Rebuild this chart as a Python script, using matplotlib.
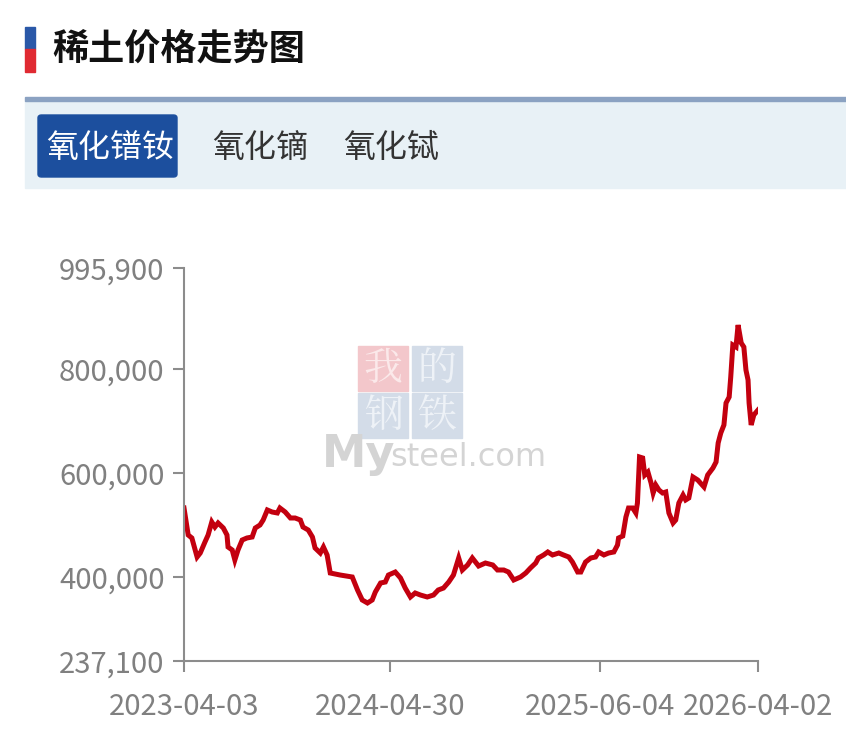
import matplotlib
matplotlib.use('Agg')
import matplotlib.pyplot as plt
import matplotlib.dates as mdates
from matplotlib.patches import Rectangle, FancyBboxPatch
import pandas as pd

plt.rcParams['font.family'] = ['Noto Sans CJK SC', 'DejaVu Sans']

# 氧化镨钕 价格 (元/吨)，从图上读出的近似值
dates = [
    '2023-04-03', '2023-04-11', '2023-04-18', '2023-04-28', '2023-05-04', '2023-05-13',
    '2023-05-19', '2023-05-26', '2023-06-01', '2023-06-07', '2023-06-17', '2023-06-24',
    '2023-06-26', '2023-07-04', '2023-07-09', '2023-07-15', '2023-07-23', '2023-08-01',
    '2023-08-11', '2023-08-17', '2023-08-26', '2023-09-01', '2023-09-09', '2023-09-18',
    '2023-09-28', '2023-10-03', '2023-10-13', '2023-10-23', '2023-11-01', '2023-11-11',
    '2023-11-16', '2023-11-26', '2023-12-04', '2023-12-09', '2023-12-19', '2023-12-25',
    '2024-01-01', '2024-01-07', '2024-01-26', '2024-02-18', '2024-02-28', '2024-03-08',
    '2024-03-18', '2024-03-27', '2024-04-02', '2024-04-12', '2024-04-21', '2024-04-27',
    '2024-05-10', '2024-05-20', '2024-05-29', '2024-06-08', '2024-06-17', '2024-06-27',
    '2024-07-10', '2024-07-22', '2024-07-31', '2024-08-10', '2024-08-20', '2024-08-29',
    '2024-09-08', '2024-09-15', '2024-09-25', '2024-10-04', '2024-10-16', '2024-10-29',
    '2024-11-12', '2024-11-21', '2024-12-03', '2024-12-12', '2024-12-22', '2025-01-04',
    '2025-01-14', '2025-01-23', '2025-02-02', '2025-02-07', '2025-02-17', '2025-02-25',
    '2025-03-06', '2025-03-18', '2025-03-27', '2025-04-06', '2025-04-13', '2025-04-23',
    '2025-04-29', '2025-05-08', '2025-05-18', '2025-05-27', '2025-06-02', '2025-06-12',
    '2025-06-21', '2025-07-01', '2025-07-08', '2025-07-10', '2025-07-18', '2025-07-24',
    '2025-07-29', '2025-08-06', '2025-08-12', '2025-08-15', '2025-08-19', '2025-08-25',
    '2025-08-29', '2025-09-04', '2025-09-10', '2025-09-14', '2025-09-19', '2025-09-25',
    '2025-10-02', '2025-10-08', '2025-10-14', '2025-10-22', '2025-10-27', '2025-11-02',
    '2025-11-10', '2025-11-15', '2025-11-21', '2025-11-29', '2025-12-08', '2025-12-20',
    '2025-12-27', '2026-01-06', '2026-01-12', '2026-01-16', '2026-01-21', '2026-01-27',
    '2026-01-31', '2026-02-06', '2026-02-09', '2026-02-13', '2026-02-19', '2026-02-23',
    '2026-03-01', '2026-03-06', '2026-03-10', '2026-03-14', '2026-03-16', '2026-03-20',
    '2026-03-25', '2026-04-02',
]
prices = [
    532500, 480400, 474600, 437900, 445600, 466900,
    480400, 505500, 495800, 503600, 493900, 480400,
    457200, 451400, 432100, 451400, 470700, 474600,
    476500, 493900, 499700, 509300, 528700, 524800,
    522900, 532500, 524800, 513200, 513200, 509300,
    495800, 490000, 476500, 455300, 445600, 457200,
    441800, 407000, 403100, 399300, 374200, 354900,
    349100, 354900, 370300, 387700, 389600, 403100,
    408900, 397400, 378000, 360700, 368400, 364500,
    360700, 364500, 374200, 378000, 389600, 403100,
    436000, 412800, 422500, 436000, 420500, 426300,
    422500, 412800, 412800, 408900, 393500, 399300,
    407000, 416700, 426300, 436000, 441800, 447600,
    441800, 445600, 441800, 437900, 428200, 408900,
    408900, 428200, 436000, 437900, 447600, 441800,
    445600, 447600, 461100, 474600, 478400, 515100,
    532500, 532500, 522900, 542200, 631000, 629100,
    596200, 602000, 580800, 561500, 576900, 567300,
    561500, 563400, 522900, 503600, 509300, 542200,
    557600, 548000, 551800, 592400, 586600, 573100,
    596200, 609700, 621300, 658000, 677300, 692800,
    735200, 746800, 785400, 847200, 843400, 885800,
    851100, 843400, 799000, 779700, 735200, 692800,
    712100, 721700,
]

y_ticks = [237100, 400000, 600000, 800000, 995900]
x_ticks = ['2023-04-03', '2024-04-30', '2025-06-04', '2026-04-02']
tabs = ['氧化镨钕', '氧化镝', '氧化铽']
title = '稀土价格走势图'

W, H = 846, 729
fig = plt.figure(figsize=(W / 100, H / 100), dpi=100)


def fx(x):  # 像素 -> figure坐标
    return x / W


def fy(y):
    return 1 - y / H


# 标题和左侧色条
fig.patches.append(Rectangle((fx(25), fy(49)), fx(10), 22 / H, transform=fig.transFigure,
                             color='#2a58a8', zorder=1))
fig.patches.append(Rectangle((fx(25), fy(72)), fx(10), 23 / H, transform=fig.transFigure,
                             color='#e02a32', zorder=1))
fig.text(fx(52), fy(50), title, fontsize=26, fontweight='bold', color='#111111',
         va='center', ha='left')

# 标签栏
fig.patches.append(Rectangle((fx(25), fy(188)), 1, 87 / H, transform=fig.transFigure,
                             color='#e8f1f6', zorder=1))
fig.patches.append(Rectangle((fx(25), fy(101)), 1, 4 / H, transform=fig.transFigure,
                             color='#8ba2c2', zorder=1))
fig.patches.append(FancyBboxPatch((fx(38), fy(177)), fx(139), 62 / H, transform=fig.transFigure,
                                  boxstyle='round,pad=0,rounding_size=0.004',
                                  color='#1c4f9e', zorder=2))
tab_x = [110, 260, 391]
for i, t in enumerate(tabs):
    fig.text(fx(tab_x[i]), fy(148), t, fontsize=23, ha='center', va='center',
             color='white' if i == 0 else '#333333', zorder=3)

ax = fig.add_axes([fx(184), fy(661), fx(758) - fx(184), fy(268) - fy(661)])

# 水印
wm = [('我', 383, 369, '#f3c7cb', '#fbe9ea'), ('的', 437, 369, '#d3dce8', '#eef2f7'),
      ('钢', 383, 416, '#d3dce8', '#eef2f7'), ('铁', 437, 416, '#d3dce8', '#eef2f7')]
for ch, cx, cy, bg, fg in wm:
    fig.patches.append(Rectangle((fx(cx - 25), fy(cy + 22)), fx(50), 45 / H,
                                 transform=fig.transFigure, color=bg, zorder=0.5))
    fig.text(fx(cx), fy(cy), ch, fontsize=28, ha='center', va='center', color=fg, zorder=0.6,
             family=['Noto Serif CJK SC', 'Noto Sans CJK SC'])
fig.text(fx(322), fy(455), 'My', fontsize=32, ha='left', va='center', color='#d4d4d4',
         family='DejaVu Sans', fontweight='bold', zorder=0.6)
fig.text(fx(390), fy(457), 'steel.com', fontsize=23, ha='left', va='center', color='#d4d4d4',
         family='DejaVu Sans', zorder=0.6)
ax.set_facecolor('none')

x = pd.to_datetime(dates)
ax.plot(x, prices, color='#c3000f', linewidth=3.6, solid_joinstyle='miter')

ax.set_ylim(y_ticks[0], y_ticks[-1])
ax.set_xlim(pd.Timestamp(x_ticks[0]), pd.Timestamp(x_ticks[-1]))
ax.set_yticks(y_ticks)
ax.set_yticklabels([f'{v:,}' for v in y_ticks])
ax.set_xticks(pd.to_datetime(x_ticks))
ax.xaxis.set_major_formatter(mdates.DateFormatter('%Y-%m-%d'))

for s in ['top', 'right']:
    ax.spines[s].set_visible(False)
for s in ['left', 'bottom']:
    ax.spines[s].set_color('#8c8c8c')
    ax.spines[s].set_linewidth(1.5)
ax.tick_params(axis='both', colors='#8c8c8c', width=1.5, length=8, labelsize=21,
               labelcolor='#808080')
ax.tick_params(axis='y', pad=6)
ax.tick_params(axis='x', pad=14)

fig.savefig('out.png', dpi=100)
